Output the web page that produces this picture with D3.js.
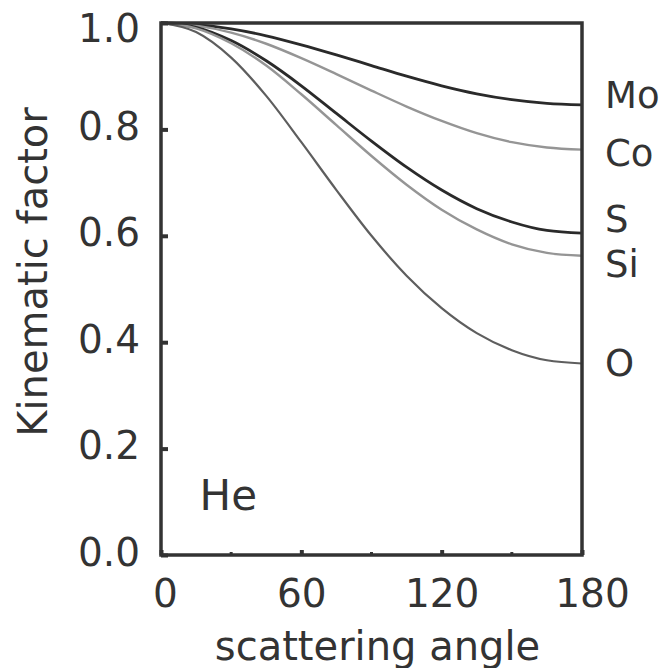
<!DOCTYPE html>
<meta charset="utf-8">
<head>
    <style>
        body { margin: 0; background: #fff; }
        text { font-family: "DejaVu Sans", Verdana, sans-serif; fill: #333; }
    </style>
    <script src="https://d3js.org/d3.v7.min.js"></script>
</head>
<body>
<svg id="chart"></svg>
<script>

    // scattering angle (deg) and kinematic factor
    var angles = [0, 15, 30, 45, 60, 75, 90, 105, 120, 135, 150, 165, 180];
    var kMo = [1, 0.997, 0.989, 0.976, 0.959, 0.940, 0.920, 0.900, 0.882, 0.867, 0.856, 0.849, 0.846];
    var kCo = [1, 0.995, 0.982, 0.961, 0.934, 0.904, 0.873, 0.843, 0.816, 0.793, 0.776, 0.766, 0.762];
    var kS  = [1, 0.992, 0.967, 0.929, 0.882, 0.830, 0.778, 0.729, 0.686, 0.651, 0.626, 0.610, 0.605];
    var kSi = [1, 0.990, 0.962, 0.920, 0.866, 0.808, 0.750, 0.696, 0.649, 0.612, 0.584, 0.568, 0.5625];
    var kO  = [1, 0.983, 0.935, 0.863, 0.776, 0.686, 0.600, 0.525, 0.464, 0.417, 0.385, 0.366, 0.360];

    var elements = ["Mo", "Co", "S", "Si", "O"];
    var labelAt = [0.866, 0.757, 0.632, 0.547, 0.361];   // where the names sit on the right
    var xTicks = [0, 60, 120, 180];
    var xMinor = [30, 90, 150];
    var yTicks = [0, 0.2, 0.4, 0.6, 0.8, 1.0];

    var series = [kMo, kCo, kS, kSi, kO];
    var strokes = ["#2a2a2a", "#959595", "#2a2a2a", "#959595", "#5e5e5e"];
    var widths = [2.8, 2.4, 2.8, 2.4, 2.2];

    var W = 666, H = 668;
    var margin = {top: 23, right: 84, bottom: 113, left: 161},
        width = W - margin.left - margin.right,
        height = H - margin.top - margin.bottom;

    var svg = d3.select("#chart")
        .attr("width", W)
        .attr("height", H);

    var g = svg.append("g")
        .attr("transform", "translate(" + margin.left + "," + margin.top + ")");

    var x = d3.scaleLinear().domain([0, 180]).range([0, width]);
    var y = d3.scaleLinear().domain([0, 1]).range([height, 0]);

    // curves
    var line = d3.line()
        .x(function(d) { return x(d[0]); })
        .y(function(d) { return y(d[1]); })
        .curve(d3.curveMonotoneX);

    series.forEach(function(s, i) {
        g.append("path")
            .datum(angles.map(function(a, j) { return [a, s[j]]; }))
            .attr("d", line)
            .attr("fill", "none")
            .attr("stroke", strokes[i])
            .attr("stroke-width", widths[i]);
    });

    // x axis: inward ticks, labels below
    var xAxis = g.append("g")
        .attr("transform", "translate(0," + height + ")")
        .call(d3.axisBottom(x).tickValues(xTicks).tickSize(-5).tickPadding(24)
            .tickFormat(d3.format("d")));
    xAxis.selectAll(".tick line").attr("stroke", "#333").attr("stroke-width", 4);
    xAxis.selectAll(".tick text")
        .style("font-size", "39px")
        .attr("dx", function(d) { return d == 180 ? 10 : (d == 0 ? 4 : 0); });
    xAxis.select(".domain").remove();

    g.append("g").selectAll("line")
        .data(xMinor)
        .enter()
        .append("line")
        .attr("x1", function(d) { return x(d); })
        .attr("x2", function(d) { return x(d); })
        .attr("y1", height)
        .attr("y2", height - 3)
        .attr("stroke", "#333")
        .attr("stroke-width", 3);

    // y axis
    var yAxis = g.append("g")
        .call(d3.axisLeft(y).tickValues(yTicks).tickSize(-7).tickPadding(21)
            .tickFormat(d3.format(".1f")));
    yAxis.selectAll(".tick line").attr("stroke", "#333").attr("stroke-width", 4);
    yAxis.selectAll(".tick text")
        .style("font-size", "39px")
        .attr("dy", function(d) { return d == 1 ? "0.47em" : "0.26em"; });
    yAxis.select(".domain").remove();

    // frame
    g.append("rect")
        .attr("width", width)
        .attr("height", height)
        .attr("fill", "none")
        .attr("stroke", "#333")
        .attr("stroke-width", 3.5);

    // element names
    g.append("g").selectAll("text")
        .data(elements)
        .enter()
        .append("text")
        .attr("x", width + 23)
        .attr("y", function(d, i) { return y(labelAt[i]); })
        .attr("dy", "0.36em")
        .style("font-size", "37px")
        .text(function(d) { return d; });

    g.append("text")
        .attr("x", x(16.5))
        .attr("y", y(0.085))
        .style("font-size", "42px")
        .text("He");

    // axis titles
    svg.append("text")
        .attr("x", margin.left + width / 2 + 6)
        .attr("y", 660)
        .attr("text-anchor", "middle")
        .style("font-size", "40px")
        .text("scattering angle");

    svg.append("text")
        .attr("transform", "translate(47,272)rotate(-90)")
        .attr("text-anchor", "middle")
        .style("font-size", "40px")
        .text("Kinematic factor");

</script>
</body>
